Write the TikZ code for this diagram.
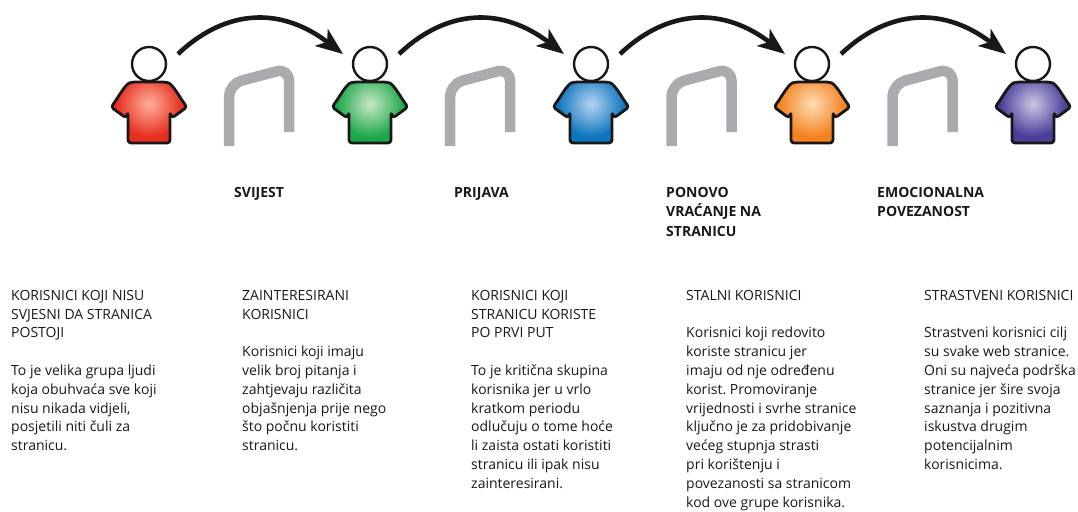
\documentclass[tikz,border=0pt]{standalone}
\usepackage{fontspec}
\setmainfont{Open Sans}
\frenchspacing
\usetikzlibrary{arrows.meta}
\definecolor{grayarch}{HTML}{A9ABAE}
\definecolor{inkc}{HTML}{1A1718}
\definecolor{redout}{HTML}{E62E1E}\definecolor{redin}{HTML}{FFB09A}
\definecolor{greenout}{HTML}{1FA84A}\definecolor{greenin}{HTML}{C8E8C8}
\definecolor{blueout}{HTML}{0F74BE}\definecolor{bluein}{HTML}{B4D6F0}
\definecolor{orangeout}{HTML}{F58220}\definecolor{orangein}{HTML}{FCDDB4}
\definecolor{violetout}{HTML}{483E98}\definecolor{violetin}{HTML}{CBC7E4}
\def\shirtoutline{(-16,-25) .. controls (-24,-23) and (-31,-9) .. (-38,0) -- (-23,11) -- (-21,5) -- (-21,36) -- (21,36) -- (21,5) -- (23,11) -- (38,0) .. controls (31,-9) and (24,-23) .. (16,-25) -- cycle}
\tikzset{x=1pt,y=-1pt,
  archline/.style={draw=grayarch,line width=10.5pt,rounded corners=13pt},
  headcircle/.style={circle,draw=inkc,line width=2.4pt,fill=white,minimum size=34pt,inner sep=0pt},
  flow/.style={draw=inkc,line width=4.6pt,-{Stealth[length=27pt,width=21pt,inset=7pt]}},
  shirtline/.style={draw=inkc,line width=2.8pt,line join=round,rounded corners=3pt},
  stage/.style={anchor=north west,font=\fontsize{14}{19.6}\selectfont\bfseries,align=left,inner sep=0pt,text=inkc},
  info/.style={anchor=north west,font=\fontsize{14}{18.8}\selectfont,align=left,inner sep=0pt,text=inkc},
  pics/person/.style n args={2}{code={
    \fill[#1,rounded corners=3pt] \shirtoutline;
    \begin{scope}
      \clip[rounded corners=3pt] \shirtoutline;
      \shade[inner color=#2,outer color=#1] (0,-3) circle (33);
    \end{scope}
    \draw[shirtline] \shirtoutline;
    \node[headcircle] (-head) at (0,-43) {};
  }}
}
\begin{document}
\begin{tikzpicture}
\useasboundingbox (0,0) rectangle (1078,511);
\foreach \x in {0,221,442.5,663.5}{
  \draw[archline,xshift=\x pt] (229,146) -- (229,84) -- (289,68) -- (289,132);
}
\pic (pa) at (149,107) {person={redout}{redin}};
\pic (pb) at (370,107) {person={greenout}{greenin}};
\pic (pc) at (591,107) {person={blueout}{bluein}};
\pic (pd) at (812,107) {person={orangeout}{orangein}};
\pic (pe) at (1033,107) {person={violetout}{violetin}};
\foreach \a/\b in {pa/pb,pb/pc,pc/pd,pd/pe}{
  \coordinate (s) at ([shift={(29,-10)}]\a-head.center);
  \coordinate (e) at ([shift={(-27,-10)}]\b-head.center);
  \draw[flow] (s) .. controls ([shift={(42,-40)}]s) and ([shift={(-68,-52)}]e) .. (e);
}
\node[stage] (s1) at (234,187) {SVIJEST};
\node[stage] (s2) at (454,187) {PRIJAVA};
\node[stage] (s3) at (666,187) {PONOVO\\VRAĆANJE NA\\STRANICU};
\node[stage] (s4) at (877,187) {EMOCIONALNA\\POVEZANOST};
\node[info] (t1) at (11,290) {KORISNICI KOJI NISU\\SVJESNI DA STRANICA\\POSTOJI\\[18.8pt]To je velika grupa ljudi\\koja obuhvaća sve koji\\nisu nikada vidjeli,\\posjetili niti čuli za\\stranicu.};
\node[info] (t2) at (242,290) {ZAINTERESIRANI\\KORISNICI\\[18.8pt]Korisnici koji imaju\\velik broj pitanja i\\zahtjevaju različita\\objašnjenja prije nego\\što počnu koristiti\\stranicu.};
\node[info] (t3) at (471,290) {KORISNICI KOJI\\STRANICU KORISTE\\PO PRVI PUT\\[18.8pt]To je kritična skupina\\korisnika jer u vrlo\\kratkom periodu\\odlučuju o tome hoće\\li zaista ostati koristiti\\stranicu ili ipak nisu\\zainteresirani.};
\node[info] (t4) at (686,290) {STALNI KORISNICI\\[18.8pt]Korisnici koji redovito\\koriste stranicu jer\\imaju od nje određenu\\korist. Promoviranje\\vrijednosti i svrhe stranice\\ključno je za pridobivanje\\većeg stupnja strasti\\pri korištenju i\\povezanosti sa stranicom\\kod ove grupe korisnika.};
\node[info] (t5) at (924,290) {STRASTVENI KORISNICI\\[18.8pt]Strastveni korisnici cilj\\su svake web stranice.\\Oni su najveća podrška\\stranice jer šire svoja\\saznanja i pozitivna\\iskustva drugim\\potencijalnim\\korisnicima.};
\end{tikzpicture}
\end{document}
